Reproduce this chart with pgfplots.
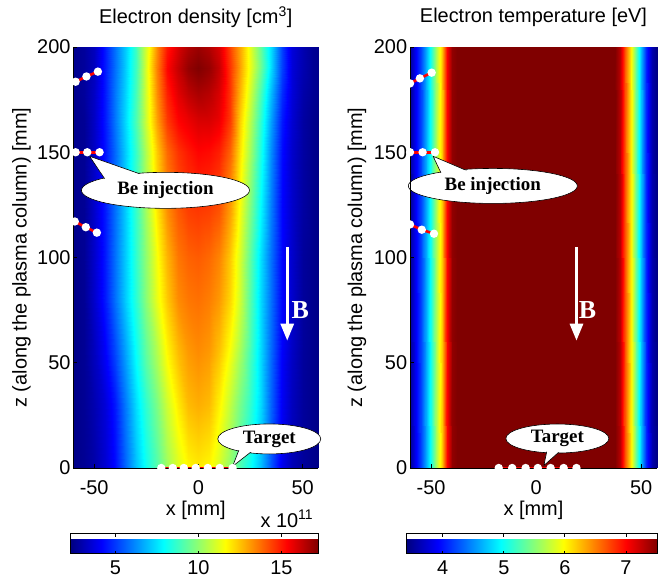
\documentclass[border=0pt]{standalone}
\usepackage{fontspec}
\setmainfont{Liberation Sans}
\newfontfamily\serifb{Liberation Serif}
\usepackage{pgfplots}
\usepackage{pgfplotstable}
\pgfplotsset{compat=1.18}
\usetikzlibrary{arrows.meta}

\pgfplotstableread[row sep=\\]{
x z v\\
-60 0 2.4\\ -55 0 2.6\\ -50 0 2.9\\ -45 0 3.5\\ -40 0 4.3\\ -35 0 5.6\\ -30 0 7.0\\ -25 0 8.1\\ -20 0 9.1\\ -15 0 10.2\\ -10 0 11.1\\ -5 0 11.7\\ 0 0 11.9\\ 5 0 11.7\\ 10 0 11.0\\ 15 0 10.0\\ 20 0 9.0\\ 25 0 8.0\\ 30 0 6.9\\ 35 0 5.4\\ 40 0 3.9\\ 45 0 3.1\\ 50 0 2.7\\ 55 0 2.5\\ 57.5 0 2.4\\
-60 30 2.4\\ -55 30 2.6\\ -50 30 3.0\\ -45 30 3.6\\ -40 30 4.5\\ -35 30 5.9\\ -30 30 7.4\\ -25 30 8.6\\ -20 30 9.7\\ -15 30 10.9\\ -10 30 11.9\\ -5 30 12.6\\ 0 30 12.8\\ 5 30 12.6\\ 10 30 11.8\\ 15 30 10.7\\ 20 30 9.6\\ 25 30 8.5\\ 30 30 7.3\\ 35 30 5.6\\ 40 30 4.0\\ 45 30 3.2\\ 50 30 2.7\\ 55 30 2.5\\ 57.5 30 2.4\\
-60 55 2.4\\ -55 55 2.6\\ -50 55 3.2\\ -45 55 4.1\\ -40 55 5.2\\ -35 55 6.5\\ -30 55 8.0\\ -25 55 9.3\\ -20 55 10.5\\ -15 55 11.7\\ -10 55 12.6\\ -5 55 13.1\\ 0 55 13.3\\ 5 55 13.1\\ 10 55 12.5\\ 15 55 11.5\\ 20 55 10.3\\ 25 55 8.8\\ 30 55 7.3\\ 35 55 5.7\\ 40 55 4.1\\ 45 55 3.3\\ 50 55 2.7\\ 55 55 2.5\\ 57.5 55 2.4\\
-60 80 2.4\\ -55 80 2.6\\ -50 80 3.4\\ -45 80 4.5\\ -40 80 5.8\\ -35 80 7.1\\ -30 80 8.5\\ -25 80 9.9\\ -20 80 11.3\\ -15 80 12.4\\ -10 80 13.3\\ -5 80 13.6\\ 0 80 13.7\\ 5 80 13.5\\ 10 80 13.1\\ 15 80 12.2\\ 20 80 10.9\\ 25 80 9.0\\ 30 80 7.3\\ 35 80 5.8\\ 40 80 4.2\\ 45 80 3.4\\ 50 80 2.7\\ 55 80 2.5\\ 57.5 80 2.4\\
-60 100 2.4\\ -55 100 2.6\\ -50 100 3.4\\ -45 100 4.5\\ -40 100 5.8\\ -35 100 7.1\\ -30 100 8.6\\ -25 100 10.0\\ -20 100 11.5\\ -15 100 12.7\\ -10 100 13.6\\ -5 100 13.9\\ 0 100 14.0\\ 5 100 13.8\\ 10 100 13.4\\ 15 100 12.4\\ 20 100 11.0\\ 25 100 9.1\\ 30 100 7.4\\ 35 100 5.8\\ 40 100 4.2\\ 45 100 3.4\\ 50 100 2.7\\ 55 100 2.5\\ 57.5 100 2.4\\
-60 125 2.5\\ -55 125 2.6\\ -50 125 3.4\\ -45 125 4.5\\ -40 125 5.8\\ -35 125 7.1\\ -30 125 8.7\\ -25 125 10.3\\ -20 125 12.0\\ -15 125 13.3\\ -10 125 14.1\\ -5 125 14.5\\ 0 125 14.6\\ 5 125 14.5\\ 10 125 14.2\\ 15 125 13.1\\ 20 125 11.5\\ 25 125 9.6\\ 30 125 7.8\\ 35 125 6.0\\ 40 125 4.2\\ 45 125 3.4\\ 50 125 2.8\\ 55 125 2.5\\ 57.5 125 2.4\\
-60 150 2.5\\ -55 150 2.6\\ -50 150 3.3\\ -45 150 4.4\\ -40 150 5.7\\ -35 150 7.1\\ -30 150 8.7\\ -25 150 10.5\\ -20 150 12.4\\ -15 150 13.8\\ -10 150 14.6\\ -5 150 15.0\\ 0 150 15.3\\ 5 150 15.2\\ 10 150 14.9\\ 15 150 13.9\\ 20 150 12.0\\ 25 150 10.1\\ 30 150 8.2\\ 35 150 6.2\\ 40 150 4.3\\ 45 150 3.4\\ 50 150 2.8\\ 55 150 2.5\\ 57.5 150 2.4\\
-60 165 2.5\\ -55 165 2.6\\ -50 165 3.3\\ -45 165 4.5\\ -40 165 5.9\\ -35 165 7.3\\ -30 165 9.0\\ -25 165 10.9\\ -20 165 13.0\\ -15 165 14.5\\ -10 165 15.3\\ -5 165 15.6\\ 0 165 15.9\\ 5 165 15.9\\ 10 165 15.6\\ 15 165 14.5\\ 20 165 12.3\\ 25 165 10.4\\ 30 165 8.5\\ 35 165 6.5\\ 40 165 4.5\\ 45 165 3.5\\ 50 165 2.8\\ 55 165 2.5\\ 57.5 165 2.4\\
-60 178 2.5\\ -55 178 2.7\\ -50 178 3.3\\ -45 178 4.5\\ -40 178 5.9\\ -35 178 7.2\\ -30 178 8.9\\ -25 178 11.0\\ -20 178 13.3\\ -15 178 14.9\\ -10 178 15.8\\ -5 178 16.3\\ 0 178 16.6\\ 5 178 16.4\\ 10 178 15.9\\ 15 178 14.6\\ 20 178 12.7\\ 25 178 10.8\\ 30 178 8.9\\ 35 178 6.9\\ 40 178 4.8\\ 45 178 3.6\\ 50 178 2.9\\ 55 178 2.6\\ 57.5 178 2.5\\
-60 190 2.5\\ -55 190 2.7\\ -50 190 3.2\\ -45 190 4.5\\ -40 190 5.8\\ -35 190 7.1\\ -30 190 8.8\\ -25 190 11.1\\ -20 190 13.5\\ -15 190 15.3\\ -10 190 16.2\\ -5 190 16.9\\ 0 190 17.2\\ 5 190 16.9\\ 10 190 16.2\\ 15 190 14.6\\ 20 190 13.0\\ 25 190 11.2\\ 30 190 9.4\\ 35 190 7.4\\ 40 190 5.1\\ 45 190 3.6\\ 50 190 3.0\\ 55 190 2.6\\ 57.5 190 2.5\\
-60 200 2.5\\ -55 200 2.7\\ -50 200 3.2\\ -45 200 4.5\\ -40 200 5.8\\ -35 200 7.1\\ -30 200 8.8\\ -25 200 11.0\\ -20 200 13.3\\ -15 200 15.0\\ -10 200 15.9\\ -5 200 16.5\\ 0 200 16.8\\ 5 200 16.5\\ 10 200 15.9\\ 15 200 14.4\\ 20 200 12.9\\ 25 200 11.1\\ 30 200 9.3\\ 35 200 7.4\\ 40 200 5.1\\ 45 200 3.6\\ 50 200 3.0\\ 55 200 2.6\\ 57.5 200 2.5\\
}\densitytable

\pgfplotstableread[row sep=\\]{
x z v\\
-60 0 3.50\\ -57.5 0 3.85\\ -55 0 4.20\\ -52.5 0 4.60\\ -50 0 5.05\\ -47.5 0 5.60\\ -45 0 6.20\\ -42.5 0 7.00\\ -40 0 7.45\\ -37.5 0 7.52\\ 37.5 0 7.52\\ 40 0 7.30\\ 42.5 0 6.67\\ 45 0 6.03\\ 47.5 0 5.36\\ 50 0 4.70\\ 52.5 0 4.09\\ 55 0 3.60\\ 57.5 0 3.42\\
-60 200 3.50\\ -57.5 200 3.85\\ -55 200 4.20\\ -52.5 200 4.60\\ -50 200 5.05\\ -47.5 200 5.60\\ -45 200 6.20\\ -42.5 200 7.00\\ -40 200 7.45\\ -37.5 200 7.52\\ 37.5 200 7.52\\ 40 200 7.30\\ 42.5 200 6.67\\ 45 200 6.03\\ 47.5 200 5.36\\ 50 200 4.70\\ 52.5 200 4.09\\ 55 200 3.60\\ 57.5 200 3.42\\
}\temptable

\pgfplotsset{
  myaxis/.style={
    anchor=south west, scale only axis, height=421bp,
    xmin=-60, xmax=57.5, ymin=0, ymax=200,
    xtick={-50,0,50}, ytick={0,50,100,150,200},
    axis x line*=bottom, axis y line*=left,
    axis line style={black, line width=1bp},
    tick align=inside, major tick length=4bp,
    tick style={black, line width=0.8bp},
    axis on top, clip=false,
    colormap/jet,
    /pgf/number format/assume math mode=true,
    xticklabel style={yshift=-6bp},
    yticklabel style={xshift=4bp},
    xlabel={x [mm]},
    xlabel style={at={(axis description cs:0.5,0)}, anchor=center, yshift=-42bp},
    ylabel={z (along the plasma column) [mm]},
    title style={at={(axis description cs:0.5,1)}, anchor=center, yshift=24bp},
    colorbar horizontal,
  },
  injline/.style={red, line width=2.6bp, mark=*, mark size=2.8bp,
    mark options={solid, draw=white, fill=white}},
  cbar/.style={
    at={(parent axis.south west)}, anchor=north west,
    scale only axis, height=20bp,
    xtick pos=both, xticklabel pos=left,
    tick align=inside, major tick length=3bp,
    tick style={black, line width=0.8bp},
    axis line style={black, line width=1bp},
    /pgf/number format/assume math mode=true,
  },
}

\begin{document}
\fontsize{20}{24}\selectfont
\begin{tikzpicture}
\path[use as bounding box] (0,0) rectangle (661bp,577bp);

% ---------------- left: electron density
\begin{axis}[myaxis,
  at={(73.3bp,109bp)}, width=245bp,
  title={Electron density [cm\textsuperscript{3}]},
  ylabel style={at={(axis description cs:-0.212,0.5)}, anchor=center},
  point meta min=2.3, point meta max=17.2,
  colorbar style={cbar, xshift=-2.6bp, yshift=-57bp, width=247.3bp, xtick={5,10,15}},
]
\addplot[surf, shader=interp, mesh/cols=25, point meta=explicit]
  table[x=x, y=z, meta=v] {\densitytable};
\addplot[injline] coordinates {(-58.9,183.5) (-53.7,186) (-48.2,188.3)};
\addplot[injline] coordinates {(-58.9,150) (-53.3,150) (-47.4,150)};
\addplot[injline] coordinates {(-59.3,117.1) (-54,114.4) (-48.7,111.8)};
\addplot[injline] coordinates {(-17.8,0) (-12.3,0) (-7,0) (-1.3,0) (4.5,0) (10.2,0) (16.4,0)};
% B arrow
\draw[white, line width=3bp, -{Triangle[width=13bp,length=17bp]}] (axis cs:42.6,104.8) -- (axis cs:42.6,60.5);
\node[white, font=\serifb\bfseries\fontsize{26}{30}\selectfont] at (axis cs:48.8,74.8) {B};
% Be injection callout
\draw[fill=white, line width=0.6bp] (axis cs:-15.8,131.9) ellipse [x radius=84bp, y radius=18bp];
\draw[fill=white, line width=0.6bp, line join=round] (axis cs:-44,136) -- (axis cs:-52.2,148.1) -- (axis cs:-26,139);
\fill[white] (axis cs:-15.8,131.9) ellipse [x radius=83bp, y radius=17bp];
\node[font=\serifb\bfseries\fontsize{19}{22}\selectfont] at (axis cs:-15.8,131.9) {Be injection};
% Target callout
\draw[fill=white, line width=0.6bp] (axis cs:34,13.8) ellipse [x radius=51.5bp, y radius=15bp];
\draw[fill=white, line width=0.6bp, line join=round] (axis cs:20,10) -- (axis cs:16.4,0.8) -- (axis cs:27,9);
\fill[white] (axis cs:34,13.8) ellipse [x radius=50.5bp, y radius=14bp];
\node[font=\serifb\bfseries\fontsize{19}{22}\selectfont] at (axis cs:34,13.8) {Target};
\end{axis}
\node[anchor=east] at (320bp,58bp) {x 10\textsuperscript{11}};

% ---------------- right: electron temperature
\begin{axis}[myaxis,
  at={(410bp,109bp)}, width=247bp,
  title={Electron temperature [eV]},
  ylabel style={at={(axis description cs:-0.215,0.5)}, anchor=center},
  point meta min=3.41, point meta max=7.52,
  colorbar style={cbar, xshift=-3.3bp, yshift=-57bp, width=251bp, xtick={4,5,6,7}},
]
\addplot[surf, shader=interp, mesh/cols=19, point meta=explicit]
  table[x=x, y=z, meta=v] {\temptable};
\addplot[injline] coordinates {(-60,182.7) (-55.3,185.1) (-49.7,187.8)};
\addplot[injline] coordinates {(-60,150) (-54,150) (-48.1,150)};
\addplot[injline] coordinates {(-60,115.7) (-54.4,113.2) (-48.6,111.3)};
\addplot[injline] coordinates {(-17.8,0) (-11.4,0) (-5,0) (0.8,0) (6.9,0) (13.1,0) (19.2,0)};
\draw[white, line width=3bp, -{Triangle[width=13bp,length=17bp]}] (axis cs:19.2,104.8) -- (axis cs:19.2,60.5);
\node[white, font=\serifb\bfseries\fontsize{26}{30}\selectfont] at (axis cs:24.5,74.8) {B};
\draw[fill=white, line width=0.6bp] (axis cs:-20.6,134) ellipse [x radius=84.5bp, y radius=17.5bp];
\draw[fill=white, line width=0.6bp, line join=round] (axis cs:-44,137.5) -- (axis cs:-49,148.1) -- (axis cs:-30,140);
\fill[white] (axis cs:-20.6,134) ellipse [x radius=83.5bp, y radius=16.5bp];
\node[font=\serifb\bfseries\fontsize{19}{22}\selectfont] at (axis cs:-20.6,134) {Be injection};
\draw[fill=white, line width=0.6bp] (axis cs:10.1,14) ellipse [x radius=51.5bp, y radius=14.5bp];
\draw[fill=white, line width=0.6bp, line join=round] (axis cs:5.5,10) -- (axis cs:3.7,1.2) -- (axis cs:13,9.5);
\fill[white] (axis cs:10.1,14) ellipse [x radius=50.5bp, y radius=13.5bp];
\node[font=\serifb\bfseries\fontsize{19}{22}\selectfont] at (axis cs:10.1,14) {Target};
\end{axis}
\end{tikzpicture}
\end{document}
